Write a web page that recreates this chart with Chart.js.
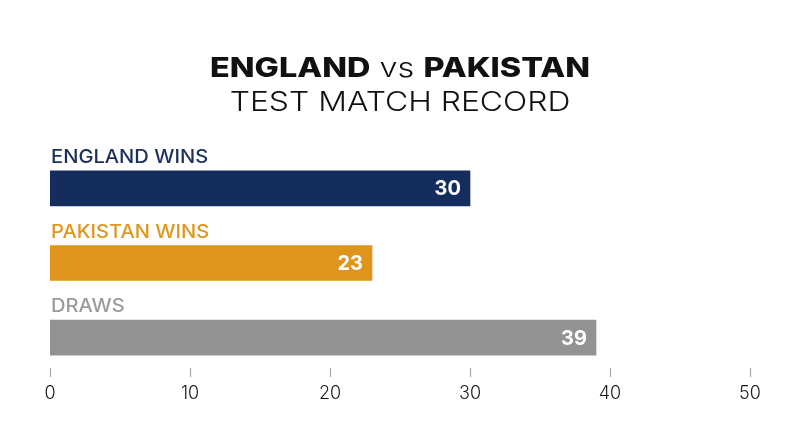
<!DOCTYPE html>
<html>
<head>
<meta charset="utf-8">
<script src="https://cdn.jsdelivr.net/npm/chart.js@4/dist/chart.umd.min.js"></script>
<style>
    html, body { margin: 0; padding: 0; background: #fff; }
    #wrap { width: 800px; height: 447px; }
</style>
</head>
<body>
<div id="wrap"><canvas id="chart"></canvas></div>
<script>
    // Chart data
    var categories = ['ENGLAND WINS', 'PAKISTAN WINS', 'DRAWS'];
    var wins = [30, 23, 39];
    var axisMin = 0, axisMax = 50, axisStep = 10;
    var titleParts = ['ENGLAND', ' vs ', 'PAKISTAN'];
    var subtitle = 'TEST MATCH RECORD';

    // Styles
    var barColors = ['#142d5d', '#df951b', '#939393'];
    var labelColors = ['#1b2f5c', '#df961e', '#9b9b9b'];
    var FONT = 'Inter, "Open Sans", sans-serif';

    // Draws text stretched horizontally (the original lettering is a wide geometric face)
    function wideText(ctx, text, x, y, sx) {
        ctx.save();
        ctx.translate(x, y);
        ctx.scale(sx, 1);
        ctx.fillText(text, 0, 0);
        ctx.restore();
    }

    // Two-line heading, first line mixes bold and light weights
    var headingPlugin = {
        id: 'heading',
        afterDraw: function (chart) {
            var ctx = chart.ctx;
            var cx = chart.width / 2;
            var sx = 1.2;
            var fonts = ['800 27px ' + FONT, '300 27px ' + FONT, '800 27px ' + FONT];
            ctx.save();
            ctx.fillStyle = '#111';
            ctx.textBaseline = 'alphabetic';
            ctx.textAlign = 'left';
            var widths = titleParts.map(function (t, i) {
                ctx.font = fonts[i];
                return ctx.measureText(t).width * sx;
            });
            var x = cx - (widths[0] + widths[1] + widths[2]) / 2;
            titleParts.forEach(function (t, i) {
                ctx.font = fonts[i];
                wideText(ctx, t, x, 77, sx);
                x += widths[i];
            });
            ctx.font = '300 27px ' + FONT;
            var w = ctx.measureText(subtitle).width * 1.18;
            wideText(ctx, subtitle, cx - w / 2, 111, 1.18);
            ctx.restore();
        }
    };

    // Category name above each bar, value inside the bar end
    var barLabelsPlugin = {
        id: 'barLabels',
        afterDatasetsDraw: function (chart) {
            var ctx = chart.ctx;
            var meta = chart.getDatasetMeta(0);
            ctx.save();
            meta.data.forEach(function (bar, i) {
                var top = bar.y - bar.height / 2;
                ctx.font = '500 19px ' + FONT;
                ctx.fillStyle = labelColors[i];
                ctx.textAlign = 'left';
                ctx.textBaseline = 'alphabetic';
                wideText(ctx, categories[i], bar.base + 1, top - 8, 1.06);

                ctx.font = '700 20px ' + FONT;
                ctx.fillStyle = '#fff';
                ctx.textAlign = 'right';
                ctx.textBaseline = 'middle';
                ctx.fillText(String(wins[i]), bar.x - 9, bar.y + 1);
            });
            ctx.restore();
        }
    };

    // Short tick marks above the x axis labels
    var tickMarksPlugin = {
        id: 'tickMarks',
        afterDraw: function (chart) {
            var ctx = chart.ctx;
            var xs = chart.scales.x;
            var y0 = chart.chartArea.bottom - 7;
            ctx.save();
            ctx.strokeStyle = '#a8a8a8';
            ctx.lineWidth = 1.2;
            xs.ticks.forEach(function (t, i) {
                var px = Math.round(xs.getPixelForTick(i)) + 0.5;
                ctx.beginPath();
                ctx.moveTo(px, y0);
                ctx.lineTo(px, y0 + 9);
                ctx.stroke();
            });
            ctx.restore();
        }
    };

    new Chart(document.getElementById('chart'), {
        type: 'bar',
        data: {
            labels: categories,
            datasets: [{
                data: wins,
                backgroundColor: barColors,
                borderWidth: 0,
                barThickness: 35
            }]
        },
        options: {
            indexAxis: 'y',
            responsive: true,
            maintainAspectRatio: false,
            animation: false,
            layout: { padding: { top: 151, left: 50, right: 50, bottom: 42 } },
            plugins: {
                legend: { display: false },
                title: { display: false },
                tooltip: { enabled: false }
            },
            scales: {
                y: { display: false },
                x: {
                    min: axisMin,
                    max: axisMax,
                    grid: { display: false },
                    border: { display: false },
                    afterFit: function (scale) { scale.height = 30; },
                    ticks: {
                        stepSize: axisStep,
                        padding: 0,
                        color: '#1a1a1a',
                        font: { family: FONT, size: 18, weight: '300' }
                    }
                }
            }
        },
        plugins: [headingPlugin, barLabelsPlugin, tickMarksPlugin]
    });
</script>
</body>
</html>
